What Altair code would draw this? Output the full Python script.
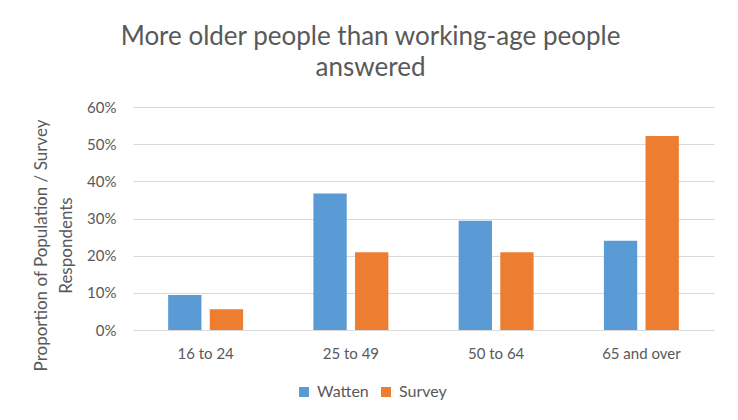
import altair as alt
import pandas as pd

ages = ["16 to 24", "25 to 49", "50 to 64", "65 and over"]
series = ["Watten", "Survey"]
watten = [0.094, 0.367, 0.294, 0.240]
survey = [0.056, 0.209, 0.209, 0.522]
colors = ["#5b9bd5", "#ed7d31"]
y_ticks = [0.0, 0.1, 0.2, 0.3, 0.4, 0.5, 0.6]

rows = []
for a, w, s in zip(ages, watten, survey):
    rows.append({"age": a, "series": "Watten", "value": w})
    rows.append({"age": a, "series": "Survey", "value": s})
df = pd.DataFrame(rows)

FONT = "Lato"
GREY = "#595959"

chart = alt.Chart(df).mark_bar().encode(
    x=alt.X("age:N", sort=ages,
            scale=alt.Scale(paddingInner=0.484, paddingOuter=0.242),
            axis=alt.Axis(title=None, labelAngle=0, ticks=False, labelPadding=16,
                          labelFontSize=15, labelColor=GREY, labelFont=FONT,
                          domainColor="#d9d9d9", domainWidth=1, grid=False)),
    xOffset=alt.XOffset("series:N", sort=series,
                        scale=alt.Scale(paddingInner=0.2, paddingOuter=0)),
    y=alt.Y("value:Q", scale=alt.Scale(domain=[0, 0.6], nice=False),
            axis=alt.Axis(values=y_ticks, format=".0%", ticks=False, domain=False,
                          labelPadding=17, labelFontSize=15, labelColor=GREY, labelFont=FONT,
                          gridColor="#d9d9d9", gridWidth=1,
                          title=["Proportion of Population / Survey", "Respondents"],
                          titleFont=FONT, titleFontSize=17, titleFontWeight="normal",
                          titleColor=GREY, titleLineHeight=25, titlePadding=11,
                          titleY=138)),
    color=alt.Color("series:N", sort=series,
                    scale=alt.Scale(domain=series, range=colors),
                    legend=alt.Legend(title=None, orient="none", direction="horizontal",
                                      legendX=163, legendY=277, symbolType="square",
                                      symbolSize=100, symbolStrokeWidth=0,
                                      labelFontSize=16, labelColor=GREY, labelFont=FONT,
                                      columnPadding=9, labelOffset=5, padding=0)),
).properties(
    width=581, height=223,
    background="white",
    title=alt.TitleParams(
        ["More older people than working-age people", "answered"],
        font=FONT, fontSize=26, fontWeight="normal", color=GREY,
        anchor="middle", dx=-53, offset=19, lineHeight=31),
    autosize=alt.AutoSizeParams(type="none"),
    padding={"left": 133, "top": 107, "right": 24, "bottom": 90},
).configure_view(stroke=None)

chart.save("out.html", embed_options={"renderer": "svg", "actions": False})
